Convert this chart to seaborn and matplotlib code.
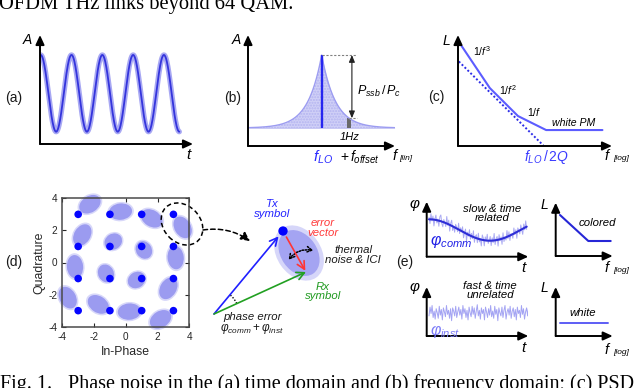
import numpy as np
import pandas as pd
import matplotlib
matplotlib.use("Agg")
import matplotlib.pyplot as plt
import seaborn as sns
from matplotlib.patches import Ellipse, Arc, Rectangle, FancyArrowPatch

# ---------------- data ----------------
# (a) carrier in the time domain
carrier_cycles = 4.5
carrier_start = 0.023
carrier_samples = 400
# (b) spectrum around the LO
spec_floor = 18.0
spec_peak = 73.0
spec_decay = 0.073
spec_halfwidth = 73.0
offset_bin = 27.6
bin_width = 4.0
# (c) PSD regions (log f, dB)
psd_f = [1e2, 1e3, 1e4, 1e5, 1e7]
psd_L = [-40, -70, -90, -100, -100]
leeson_f = [10 ** 1.9, 10 ** 4.9]
leeson_L = [-51, -111]
# (d) 16-QAM ideal points and rotated/noisy clouds
qam_levels = [-3, -1, 1, 3]
cloud_x = [-2.26, -0.33, 1.63, 3.58, -2.74, -0.79, 1.14, 3.14,
           -3.20, -1.25, 0.68, 2.68, -3.66, -1.73, 0.22, 2.19]
cloud_y = [3.63, 3.17, 2.75, 2.19, 1.71, 1.30, 0.78, 0.30,
           -0.26, -0.68, -1.09, -1.61, -2.19, -2.61, -3.06, -3.54]
d_ticks = [-4, -2, 0, 2, 4]
# vector diagram (pixel units of the sketch)
vec_origin = [214, 314]
tx_symbol = [283, 231]
rx_symbol = [306, 272]
# (e) phase-noise traces
comm_mean, comm_swing, comm_period, comm_min_at = 26.7, 10.7, 122.0, 63.3
noise_comm = [0.3, -0.6, 0.8, -0.2, 0.5, -0.9, 0.1, 0.7, -0.4, 0.2,
              -0.8, 0.6, 0.9, -0.3, -0.7, 0.4, 0.0, -0.5, 1.0, -0.2,
              0.6, -0.9, 0.3, 0.8, -0.6, 0.1, -0.7, 0.5, 0.2, -0.4,
              0.9, -0.5, 0.4, -0.1, 0.7, -0.8, 0.0, 0.6, -1.0, 0.3,
              -0.2, 0.8, -0.5, 0.4, -0.3, 0.9, -0.7, 0.2, 0.5, -0.6,
              0.8, -0.4, 0.1, -0.9, 0.7, 0.3, -0.8, 0.5, -0.1, 0.9,
              -0.4, 0.0, 0.6, -0.7, 0.4, -0.3, 1.0, -0.6, 0.2, 0.5,
              -0.9, 0.7, -0.2, 0.3, -0.8, 0.8, -0.5, 0.1, -0.4, 0.9,
              -0.3, 0.6, -0.7, 0.2, 0.0, -0.6, 0.8, -0.2, 0.4, -0.9,
              0.5, 0.1, -0.5, 0.7, -0.1, -0.8, 0.6, -0.3, 0.9, -0.4]
noise_inst = [-0.4, 0.7, -0.1, 0.9, -0.6, 0.2, -0.8, 0.5, 0.0, -0.7,
              0.8, -0.3, 0.4, -0.9, 0.6, 0.1, -0.5, 0.9, -0.2, 0.3,
              -0.7, 0.5, -1.0, 0.6, 0.2, -0.4, 0.8, -0.6, 0.1, 0.7,
              -0.3, 0.4, -0.8, 0.9, -0.1, 0.5, -0.6, 0.3, -0.9, 0.7,
              0.0, -0.5, 0.8, -0.2, 0.6, -0.7, 0.2, 1.0, -0.4, 0.3,
              -0.8, 0.6, -0.1, 0.4, -0.9, 0.7, 0.1, -0.6, 0.5, -0.3,
              0.9, -0.5, 0.2, -0.7, 0.8, -0.2, 0.4, -1.0, 0.6, 0.0,
              -0.4, 0.7, -0.6, 0.3, 0.9, -0.8, 0.1, 0.5, -0.3, 0.8,
              -0.7, 0.2, 0.6, -0.5, 0.4, -0.9, 0.7, -0.1, 0.3, -0.6,
              0.9, -0.2, 0.5, -0.8, 0.1, 0.6, -0.4, 0.8, -0.7, 0.2]
inst_mean = 23.3
colored_f = [4.3, 32.6, 55.0]
colored_L = [41.0, 15.0, 15.0]
white_f = [4.3, 52.3]
white_L = [12.7, 12.7]

# ---------------- style ----------------
sns.set_theme(style="white")
plt.rcParams["font.family"] = ["Liberation Sans", "DejaVu Sans"]
plt.rcParams["mathtext.fontset"] = "custom"
plt.rcParams["mathtext.rm"] = "Liberation Sans"
plt.rcParams["mathtext.it"] = "Liberation Sans:italic"
plt.rcParams["mathtext.bf"] = "Liberation Sans:bold"
plt.rcParams["axes.unicode_minus"] = False

W, H = 640, 388
fig = plt.figure(figsize=(W / 100, H / 100), dpi=100)


def px_axes(x0, y0, x1, y1):
    ax = fig.add_axes([x0 / W, 1 - y1 / H, (x1 - x0) / W, (y1 - y0) / H])
    ax.patch.set_alpha(0)
    return ax


AX_ARROW = dict(arrowstyle="-|>,head_length=0.7,head_width=0.32", color="black",
                lw=1.4, shrinkA=0, shrinkB=0, mutation_scale=8)


def arrow_axes(ax):
    ax.set_axis_off()
    ax.annotate("", xy=(1, 0), xytext=(0, 0), xycoords="axes fraction",
                textcoords="axes fraction", arrowprops=AX_ARROW, annotation_clip=False)
    ax.annotate("", xy=(0, 1), xytext=(0, 0), xycoords="axes fraction",
                textcoords="axes fraction", arrowprops=AX_ARROW, annotation_clip=False)


# ---------------- (a) ----------------
ax_a = px_axes(40, 35, 193, 144)
tc = np.linspace(0, carrier_cycles, carrier_samples)
df_a = pd.DataFrame({"t": tc + carrier_start, "A": np.cos(2 * np.pi * tc)})
sns.lineplot(data=df_a, x="t", y="A", ax=ax_a, color="#a8a8f3", lw=3.8,
             estimator=None, sort=False)
sns.lineplot(data=df_a, x="t", y="A", ax=ax_a, color="#3434dc", lw=1.3,
             estimator=None, sort=False)
ax_a.set_xlim(0, 4.967)
ax_a.set_ylim(-1.32, 1.52)
arrow_axes(ax_a)

# ---------------- (b) ----------------
ax_b = px_axes(248, 35, 395, 146)
fb = np.linspace(-spec_halfwidth, spec_halfwidth, 601)
lvl = spec_floor + spec_peak * np.exp(-spec_decay * np.abs(fb))
ax_b.fill_between(fb, spec_floor, lvl, color="#d0d0f7", lw=0)
ax_b.fill_between(fb, spec_floor, lvl, facecolor="none", edgecolor="#b4b4f0",
                  hatch="......", lw=0)
sns.lineplot(x=fb, y=lvl, ax=ax_b, color="#9c9cf1", lw=1.0, estimator=None, sort=False)
ax_b.plot([fb[0], fb[-1]], [spec_floor, spec_floor], color="#c4c4f4", lw=0.6)
ax_b.vlines(0, spec_floor, spec_floor + spec_peak, color="#2626f0", lw=1.7)
lvl_off = spec_floor + spec_peak * np.exp(-spec_decay * offset_bin)
ax_b.add_patch(Rectangle((offset_bin - bin_width / 2, spec_floor), bin_width,
                         lvl_off - spec_floor, color="#6a6a6a", lw=0))
ax_b.hlines(spec_floor + spec_peak, 0, 35.5, color="#808080", lw=0.8, ls=(0, (2, 1.5)))
ax_b.hlines(lvl_off, offset_bin, 35.5, color="#808080", lw=0.8, ls=(0, (2, 1.5)))
ax_b.annotate("", xy=(30.2, lvl_off), xytext=(30.2, spec_floor + spec_peak),
              arrowprops=dict(arrowstyle="<|-|>,head_length=0.6,head_width=0.25",
                              color="#222222", lw=0.8, shrinkA=0, shrinkB=0,
                              mutation_scale=7))
ax_b.set_xlim(-73.7, 73.3)
ax_b.set_ylim(0, 111)
arrow_axes(ax_b)

# ---------------- (c) ----------------
ax_c = px_axes(458, 35, 612, 146)
sns.lineplot(x=psd_f, y=psd_L, ax=ax_c, color="#5c5cff", lw=1.5,
             estimator=None, sort=False)
ax_c.plot(leeson_f, leeson_L, color="#2d2de8", lw=1.4, ls=(0, (1, 1.1)))
ax_c.set_xscale("log")
ax_c.set_xlim(10 ** 1.87, 10 ** 7.34)
ax_c.set_ylim(-111.4, -32.1)
arrow_axes(ax_c)

# ---------------- (d) ----------------
ax_d = px_axes(62.3, 198.3, 189.3, 326.7)
grid_x, grid_y = np.meshgrid(qam_levels, qam_levels[::-1])
grid_x = grid_x.ravel()
grid_y = grid_y.ravel()
for cx, cy, gx, gy in zip(cloud_x, cloud_y, grid_x, grid_y):
    ang = np.degrees(np.arctan2(cy, cx)) + 90
    inner = abs(gx) == 1 and abs(gy) == 1
    w, h = (1.15, 0.98) if inner else (1.45, 1.02)
    ax_d.add_patch(Ellipse((cx, cy), w * 1.16, h * 1.18, angle=ang,
                           color="#b8b8f5", alpha=0.55, lw=0, clip_on=False))
    ax_d.add_patch(Ellipse((cx, cy), w, h, angle=ang, color="#9b9bf0",
                           lw=0, clip_on=False))
sns.scatterplot(x=grid_x, y=grid_y, ax=ax_d, s=30, color="#0505ff",
                edgecolor="none", zorder=3, clip_on=False)
ax_d.add_patch(Ellipse((3.54, 2.40), 2.9, 2.3, angle=-45, fill=False,
                       ls=(0, (3, 2)), lw=1.1, color="black", clip_on=False))
ax_d.set_xlim(-4, 4)
ax_d.set_ylim(-4, 4)
ax_d.set_xticks(d_ticks)
ax_d.set_yticks(d_ticks)
ax_d.tick_params(direction="in", length=3, width=0.8, colors="#262626",
                 labelsize=7.2, top=True, right=True, pad=3.5,
                 bottom=True, left=True)
for sp in ax_d.spines.values():
    sp.set_color("#4a4a4a")
    sp.set_linewidth(1.1)
ax_d.set_xlabel("In-Phase", fontsize=8.8, color="#262626")
ax_d.set_ylabel("Quadrature", fontsize=8.8, color="#262626")
ax_d.xaxis.set_label_coords(0.5, -0.195)
ax_d.xaxis.label.set_va("center")
ax_d.yaxis.set_label_coords(-0.183, 0.5)
ax_d.yaxis.label.set_va("center")

# ---------------- vector diagram ----------------
ax_v = px_axes(200, 185, 345, 335)
ax_v.set_xlim(200, 345)
ax_v.set_ylim(335, 185)
ax_v.set_axis_off()
ax_v.add_patch(Ellipse((299, 253), 60, 44, angle=55, color="#bcbcf6", alpha=0.6, lw=0))
ax_v.add_patch(Ellipse((299, 253), 50, 36, angle=55, color="#a4a4f2", lw=0))
ax_v.annotate("", xy=tx_symbol, xytext=vec_origin,
              arrowprops=dict(arrowstyle="->,head_length=0.55,head_width=0.28",
                              color="#1f1fff", lw=1.2, shrinkA=0, shrinkB=5,
                              mutation_scale=10))
ax_v.annotate("", xy=rx_symbol, xytext=vec_origin,
              arrowprops=dict(arrowstyle="->,head_length=0.55,head_width=0.28",
                              color="#22a022", lw=1.2, shrinkA=0, shrinkB=0,
                              mutation_scale=10))
ax_v.annotate("", xy=rx_symbol, xytext=tx_symbol,
              arrowprops=dict(arrowstyle="->,head_length=0.55,head_width=0.28",
                              color="#ff3535", lw=1.2, shrinkA=5, shrinkB=1,
                              mutation_scale=10))
sns.scatterplot(x=[tx_symbol[0]], y=[tx_symbol[1]], ax=ax_v, s=45,
                color="#0000ff", edgecolor="none", zorder=4)
ax_v.add_patch(FancyArrowPatch((287, 262), (316, 251),
                               connectionstyle="arc3,rad=-0.35",
                               arrowstyle="<->,head_length=0.35,head_width=0.2",
                               ls=(0, (1, 1)), lw=1.1, color="black",
                               mutation_scale=10))
ax_v.add_patch(Arc(vec_origin, 50, 50, theta1=-49, theta2=-25,
                   ls=(0, (1, 1.2)), lw=1.0, color="black"))

# ---------------- (e) ----------------
ax_e1 = px_axes(426.7, 201.7, 528.3, 256.7)
t_comm = np.linspace(2.3, 100, len(noise_comm))
comm_smooth = comm_mean - comm_swing * np.cos(2 * np.pi * (t_comm - comm_min_at) / comm_period)
sns.lineplot(x=t_comm, y=comm_smooth + 7 * np.array(noise_comm), ax=ax_e1,
             color="#aaaaf3", lw=0.7, estimator=None, sort=False)
t_fine = np.linspace(2.3, 100, 300)
sns.lineplot(x=t_fine, y=comm_mean - comm_swing * np.cos(2 * np.pi * (t_fine - comm_min_at) / comm_period),
             ax=ax_e1, color="#2d2dd6", lw=1.5, estimator=None, sort=False)
ax_e1.set_xlim(0, 101.6)
ax_e1.set_ylim(0, 55)
arrow_axes(ax_e1)

ax_e2 = px_axes(555.7, 202.7, 612.7, 256)
sns.lineplot(x=colored_f, y=colored_L, ax=ax_e2, color="#2626d6", lw=1.5,
             estimator=None, sort=False)
ax_e2.set_xlim(0, 57)
ax_e2.set_ylim(0, 53.3)
arrow_axes(ax_e2)

ax_e3 = px_axes(426.7, 287, 528.3, 336)
t_inst = np.linspace(2.3, 104, len(noise_inst))
sns.lineplot(x=t_inst, y=inst_mean + 8 * np.array(noise_inst), ax=ax_e3,
             color="#a4a4f3", lw=0.7, estimator=None, sort=False)
ax_e3.set_xlim(0, 101.6)
ax_e3.set_ylim(0, 49)
arrow_axes(ax_e3)

ax_e4 = px_axes(555.7, 287, 612.7, 336)
sns.lineplot(x=white_f, y=white_L, ax=ax_e4, color="#5d5df5", lw=1.4,
             estimator=None, sort=False)
ax_e4.set_xlim(0, 57)
ax_e4.set_ylim(0, 49)
arrow_axes(ax_e4)

# ---------------- overlay: labels & captions ----------------
ov = fig.add_axes([0, 0, 1, 1])
ov.set_xlim(0, W)
ov.set_ylim(H, 0)
ov.set_axis_off()
ov.patch.set_alpha(0)


def T(x, y, s, size=8, color="black", style="italic", ha="center", va="center", **kw):
    return ov.text(x, y, s, fontsize=size, color=color, style=style, ha=ha, va=va,
                   family=["Liberation Sans", "DejaVu Sans"], **kw)


# panel letters
for lx, ly, s in [(13.5, 98, "(a)"), (233, 98, "(b)"), (436, 97, "(c)"),
                  (13.5, 262, "(d)"), (404.5, 262, "(e)")]:
    T(lx, ly, s, size=10, style="normal", color="#1a1a1a")

# (a)
T(27.5, 40, "A", size=10)
T(188.5, 155, "t", size=11)
# (b)
T(236, 40, "A", size=10)
T(357, 91, r"$P_{ssb}\,/\,P_c$", size=9, ha="left")
T(350, 137.5, "1Hz", size=8)
T(323.5, 157, r"$f_{LO}$", size=11, color="#2a2aff")
T(360, 157, r"$+\,f_{offset}$", size=10)
T(395, 156, "f", size=10.5)
T(399, 158, "[lin]", size=6, ha="left")
# (c)
T(446, 41, "L", size=10)
T(473, 51.5, r"$\mathit{1/f}^{\mathit{3}}$", size=7.5, ha="left")
T(499, 90, r"$\mathit{1/f}^{\mathit{2}}$", size=7.5, ha="left")
T(527, 112, r"$\mathit{1/f}$", size=7.5, ha="left")
T(551.5, 122.7, "white PM", size=7.6, ha="left")
T(546.5, 157, r"$f_{LO}\,/\,2Q$", size=10, color="#3a3aff")
T(607, 156, "f", size=10.5)
T(613, 158, "[log]", size=6, ha="left")
# vector diagram
T(272, 209, "Tx\nsymbol", size=8.2, color="#2222ff", linespacing=0.95)
T(323, 228, "error\nvector", size=8.2, color="#ff3a3a", linespacing=0.95)
T(353, 255, "thermal\nnoise & ICI", size=8.2, color="#1a1a1a", linespacing=0.95)
T(323, 291.5, "Rx\nsymbol", size=8.2, color="#1f9a1f", linespacing=0.95)
T(252, 316.7, "phase error", size=8.2, color="#1a1a1a")
T(252, 328.5, r"$\varphi_{comm}+\varphi_{inst}$", size=8.5, color="#1a1a1a")
ov.annotate("", xy=(250, 241), xytext=(203, 230),
            arrowprops=dict(arrowstyle="-|>,head_length=0.6,head_width=0.3",
                            ls=(0, (3, 2)), lw=1.1, color="black",
                            connectionstyle="arc3,rad=-0.2", mutation_scale=9,
                            shrinkA=0, shrinkB=0))
# (e)
T(415, 205, r"$\varphi$", size=11)
T(523.5, 268, "t", size=11)
T(492, 213.5, "slow & time\nrelated", size=8.2, linespacing=0.95)
T(430, 242, r"$\varphi_{comm}$", size=11.5, color="#1f1fe6", ha="left")
T(544, 205, "L", size=10)
T(597, 223, "colored", size=8.2)
T(607, 268, "f", size=10.5)
T(613, 270, "[log]", size=6, ha="left")
T(415, 288, r"$\varphi$", size=11)
T(523.5, 348, "t", size=11)
T(490, 290.5, "fast & time\nunrelated", size=8.2, linespacing=0.95)
T(430, 331.5, r"$\varphi_{inst}$", size=11.5, color="#7b7bf7", ha="left")
T(544, 288, "L", size=10)
T(583, 312.7, "white", size=8.2)
T(607, 350.5, "f", size=10.5)
T(613, 352.5, "[log]", size=6, ha="left")

# captions (serif, clipped by the figure edges like the source page)
serif = ["Liberation Serif", "DejaVu Serif"]
top_txt = ov.text(-1, 8.8, "OFDM THz links beyond 64 QAM.", family=serif,
                  fontsize=12.5, ha="left", va="baseline", color="black")
cap1 = ov.text(0, 388.5, "Fig. 1.", family=serif, fontsize=12.5, ha="left",
               va="baseline", color="black")
cap2 = ov.text(68, 388.5, "Phase noise in the (a) time domain and (b) frequency domain; (c) PSD",
               family=serif, fontsize=12.5, ha="left", va="baseline", color="black")
fig.canvas.draw()
rend = fig.canvas.get_renderer()
w2 = cap2.get_window_extent(rend).width
cap2.set_fontsize(12.5 * 570 / w2)
cap1.set_fontsize(12.5 * 570 / w2)
wt = top_txt.get_window_extent(rend).width
top_txt.set_fontsize(12.5 * 295 / wt)

fig.savefig("out.png", dpi=100)
